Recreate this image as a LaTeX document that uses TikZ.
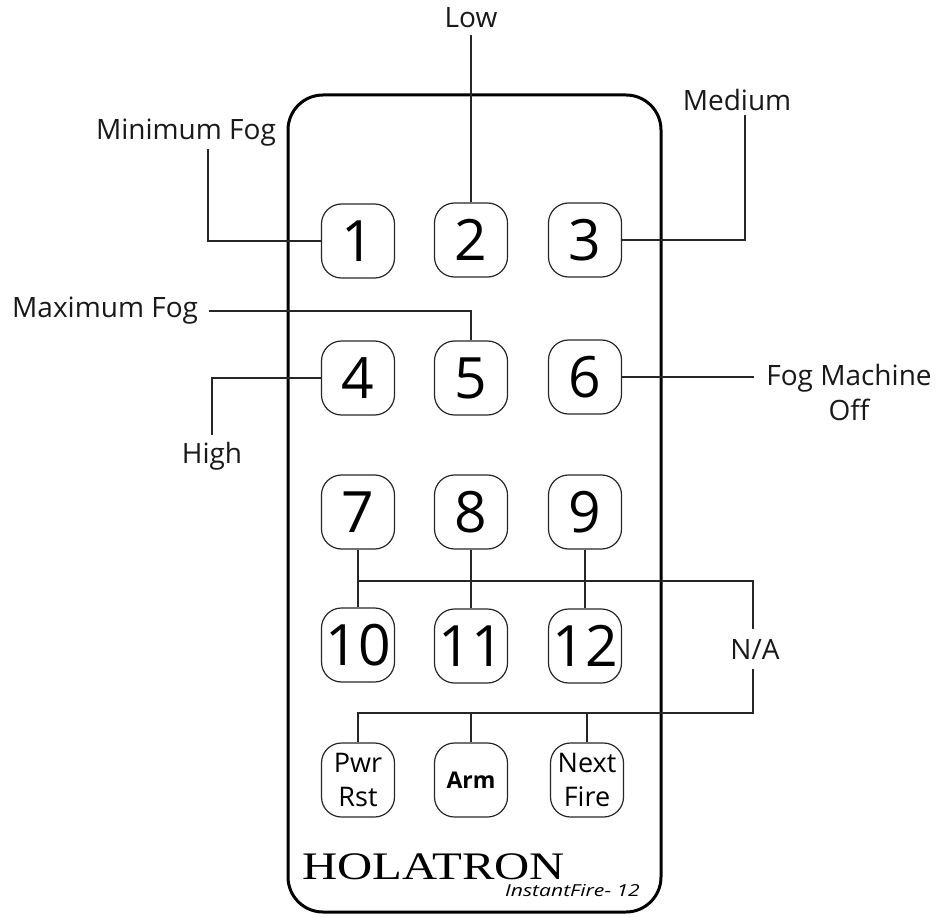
\documentclass[tikz,border=0pt]{standalone}
\usepackage{fontspec}
\setmainfont{Open Sans}
\newfontfamily\brandfont{Liberation Serif}
\begin{document}
\begin{tikzpicture}[x=1pt,y=-1pt,
  btn/.style={draw=black!85,line width=1.2pt,rounded corners=20pt,minimum width=73pt,minimum height=74pt,inner sep=0pt},
  digit/.style={btn,font=\fontsize{57}{60}\selectfont},
  small/.style={btn,font=\fontsize{27}{34}\selectfont,align=center},
  lbl/.style={font=\fontsize{28}{35}\selectfont,inner sep=0pt,anchor=base,text=black!90},
  wire/.style={line width=1.1pt,black!85}]
\useasboundingbox (0,0) rectangle (937,917);
% body
\draw[line width=3pt,rounded corners=35pt] (288,95) rectangle (661,912);
% buttons
\node[digit] (b1) at (358,241) {1};
\node[digit] (b2) at (471,240) {2};
\node[digit] (b3) at (585,240) {3};
\node[digit] (b4) at (358,378) {4};
\node[digit] (b5) at (471,378) {5};
\node[digit] (b6) at (585,377) {6};
\node[digit] (b7) at (358,512) {7};
\node[digit] (b8) at (471,512) {8};
\node[digit] (b9) at (585,512) {9};
\node[digit] (b10) at (358,645) {10};
\node[digit] (b11) at (471,646) {11};
\node[digit] (b12) at (585,646) {12};
\node[small] (bp) at (358,780) {Pwr\\Rst};
\node[btn,font=\fontsize{23}{26}\selectfont\bfseries] (ba) at (471,780) {Arm};
\node[small] (bn) at (587,780) {Next\\Fire};
% labels
\node[lbl] (lmin) at (186,140) {Minimum Fog};
\node[lbl] (llow) at (471,28) {Low};
\node[lbl] (lmed) at (737,111) {Medium};
\node[lbl,anchor=base west] (lmax) at (12,318) {Maximum Fog};
\node[lbl] (lhigh) at (212,463) {High};
\node[lbl,align=center] (loff) at (849,420) {Fog Machine\\Off};
\node[lbl] (lna) at (755,659) {N/A};
% branding
\node[anchor=base west,inner sep=0pt,font=\brandfont\fontsize{39}{40}\selectfont] (brand) at (302,879) {\scalebox{1.25}[1]{HOLATRON}};
\node[anchor=base west,inner sep=0pt,font=\fontsize{16.5}{20}\selectfont\itshape] (model) at (505,896) {\scalebox{1.28}[1]{InstantFire- 12}};
% connectors
\coordinate (cmin) at (208,149);
\coordinate (clow) at (471,35);
\coordinate (cmed) at (745,115);
\coordinate (cmax) at (209,311);
\coordinate (chigh) at (212,435);
\coordinate (coff) at (754,377);
\coordinate (ntop) at (753,581);
\coordinate (nup) at (753,629);
\coordinate (ndown) at (753,669);
\coordinate (nbot) at (753,713);
\draw[wire] (b1.west) -| (cmin);
\draw[wire] (b2.north) -- (clow);
\draw[wire] (b3.east) -| (cmed);
\draw[wire] (cmax) -| (b5.north);
\draw[wire] (b4.west) -| (chigh);
\draw[wire] (b6.east) -- (coff);
\draw[wire] (b7.south) -- (b10.north);
\draw[wire] (b8.south) -- (b11.north);
\draw[wire] (b9.south) -- (b12.north);
\draw[wire] (b7.south |- ntop) -- (ntop) -- (nup);
\draw[wire] (ndown) -- (nbot) -- (bp.north |- nbot) -- (bp.north);
\draw[wire] (ba.north |- nbot) -- (ba.north);
\draw[wire] (bn.north |- nbot) -- (bn.north);
\end{tikzpicture}
\end{document}
